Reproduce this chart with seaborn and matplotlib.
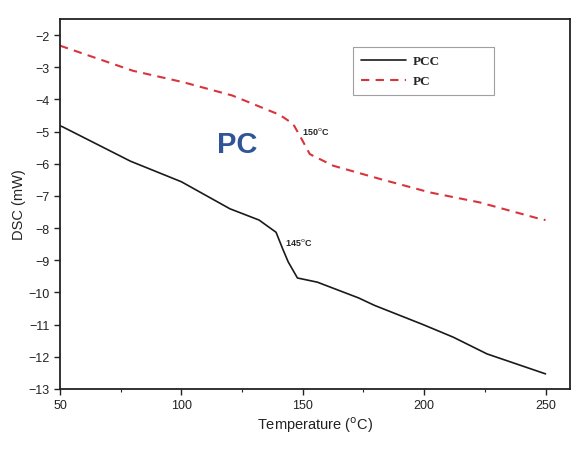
import pandas as pd
import matplotlib.pyplot as plt
import seaborn as sns
from matplotlib.ticker import MultipleLocator

# PCC curve (black, solid)
pcc_temp = [50, 51, 79, 100, 120, 132, 139, 141.7, 144, 147.8, 156, 173, 179.5, 199.6, 212, 225.9, 250]
pcc_dsc = [-4.82, -4.85, -5.92, -6.56, -7.40, -7.75, -8.13, -8.64, -9.05, -9.55, -9.68, -10.17, -10.4, -11.0, -11.39, -11.91, -12.53]

# PC curve (red, dashed)
pc_temp = [50, 80, 101, 121, 140.5, 146, 148.8, 152.9, 162.5, 181.7, 202.3, 222.8, 247.5, 250]
pc_dsc = [-2.33, -3.11, -3.47, -3.88, -4.48, -4.76, -5.13, -5.70, -6.06, -6.47, -6.89, -7.2, -7.71, -7.75]

sns.set_style('ticks')
plt.rcParams['font.family'] = ['Liberation Sans', 'DejaVu Sans']

fig = plt.figure(figsize=(5.85, 4.64), dpi=100)
ax = fig.add_axes([0.1026, 0.1595, 0.8714, 0.7975])

sns.lineplot(x=pcc_temp, y=pcc_dsc, ax=ax, color='#1a1a1a', lw=1.2, label='PCC', sort=False)
sns.lineplot(x=pc_temp, y=pc_dsc, ax=ax, color='#d8343c', lw=1.5, label='PC', sort=False)
ax.lines[1].set_dashes([4, 3])

ax.set_xlim(50, 260)
ax.set_ylim(-13, -1.5)
ax.xaxis.set_major_locator(MultipleLocator(50))
ax.xaxis.set_minor_locator(MultipleLocator(25))
ax.yaxis.set_major_locator(MultipleLocator(1))
ax.tick_params(axis='both', which='major', direction='out', length=4, width=1, labelsize=9, colors='#222222')
ax.tick_params(axis='x', which='minor', direction='out', length=2.5, width=0.8)
for s in ax.spines.values():
    s.set_linewidth(1.3)
    s.set_color('#222222')

ax.set_xlabel('Temperature ($^\\mathrm{o}$C)', fontsize=10.5, color='#222222', labelpad=2)
ax.set_ylabel('DSC (mW)', fontsize=10.5, color='#222222', labelpad=2)

ax.text(149.5, -4.97, '150$^\\mathrm{o}$C', fontsize=6.5, fontweight='bold', ha='left', va='center')
ax.text(142.6, -8.43, '145$^\\mathrm{o}$C', fontsize=6.5, fontweight='bold', ha='left', va='center')
ax.text(123, -5.4, 'PC', fontsize=21, fontweight='semibold', color='#2f5597', ha='center', va='center')

leg = ax.legend(loc='upper left', bbox_to_anchor=(0.5745, 0.797, 0.2765, 0.127), mode='expand',
                frameon=True, fancybox=False, edgecolor='#888888', borderaxespad=0,
                prop={'family': 'Liberation Serif', 'size': 9.5, 'weight': 'bold'},
                handlelength=3.4, borderpad=0.6, labelspacing=0.6, handletextpad=0.5)
leg.get_frame().set_linewidth(0.8)

fig.savefig('out.png', dpi=100)
